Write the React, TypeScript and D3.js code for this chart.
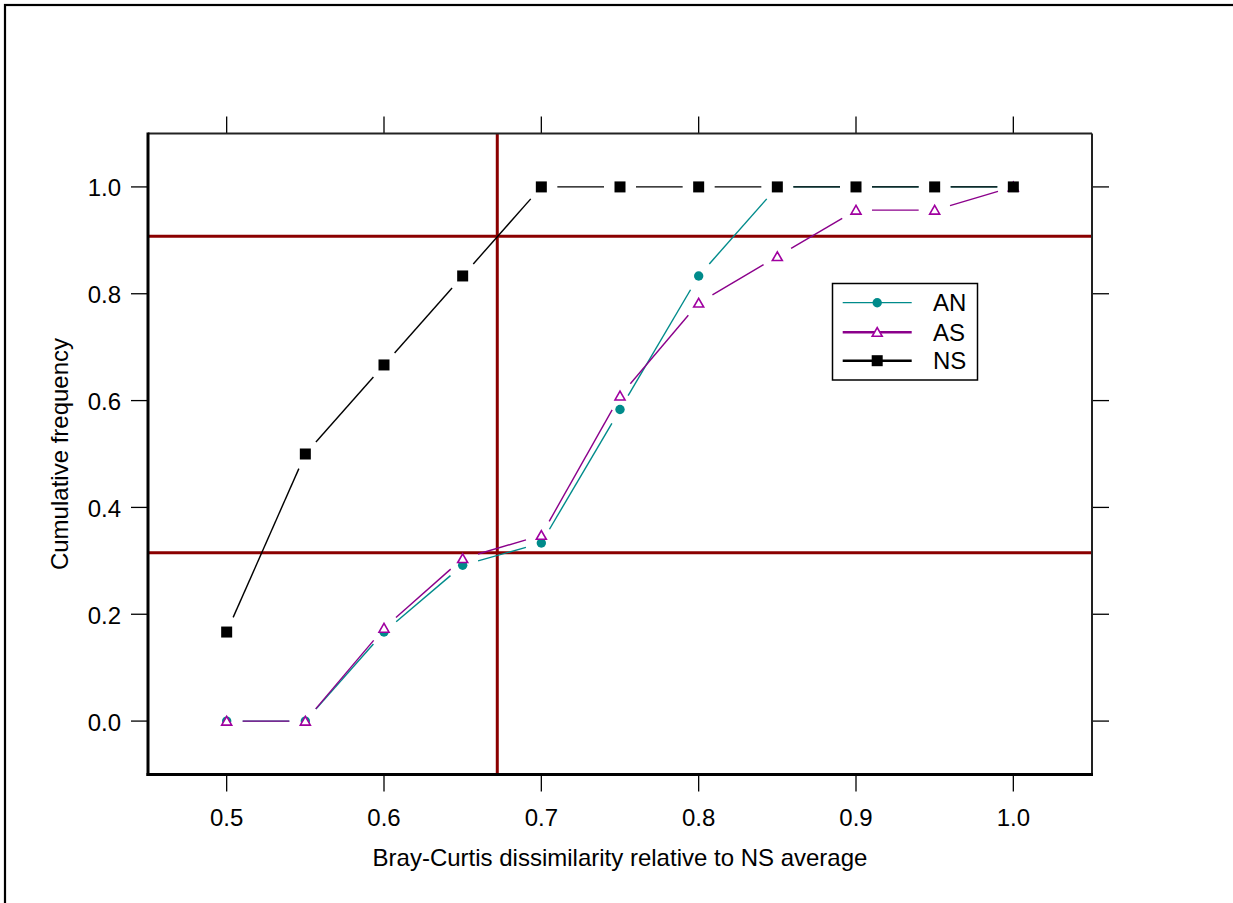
import React from "react";
import * as d3 from "d3";

const xValues = [0.5, 0.55, 0.6, 0.65, 0.7, 0.75, 0.8, 0.85, 0.9, 0.95, 1.0];
const anValues = [0, 0, 0.1667, 0.2917, 0.3333, 0.5833, 0.8333, 1.0, 1.0, 1.0, 1.0];
const asValues = [0, 0, 0.1739, 0.3043, 0.3478, 0.6087, 0.7826, 0.8696, 0.9565, 0.9565, 1.0];
const nsValues = [0.1667, 0.5, 0.6667, 0.8333, 1.0, 1.0, 1.0, 1.0, 1.0, 1.0, 1.0];
const xTicks = [0.5, 0.6, 0.7, 0.8, 0.9, 1.0];
const yTicks = [0.0, 0.2, 0.4, 0.6, 0.8, 1.0];
const hLines = [0.9076, 0.315];
const vLines = [0.672];
const seriesNames = ["AN", "AS", "NS"];

const W = 1233;
const H = 903;
const left = 148, right = 1092, top = 133.5, bottom = 774.5;
const FONT = "'Liberation Sans', Arial, Helvetica, sans-serif";
const FS = 24;

const colors: Record<string, string> = { AN: "#008B8B", AS: "#8B008B", NS: "#000000" };
const markerColors: Record<string, string> = { AN: "#008B8B", AS: "#A000A0", NS: "#000000" };

export default function App() {
  const x = d3.scaleLinear().domain([0.45, 1.05]).range([left, right]);
  const y = d3.scaleLinear().domain([-0.1, 1.1]).range([bottom, top]);

  const seriesData: Record<string, number[]> = { AN: anValues, AS: asValues, NS: nsValues };
  const gap = 16;

  const segs = (vals: number[]) => {
    const out: string[] = [];
    for (let i = 0; i < vals.length - 1; i++) {
      const x0 = x(xValues[i]), y0 = y(vals[i]);
      const x1 = x(xValues[i + 1]), y1 = y(vals[i + 1]);
      const dx = x1 - x0, dy = y1 - y0;
      const d = Math.hypot(dx, dy);
      if (d <= 2 * gap) continue;
      const ux = dx / d, uy = dy / d;
      const p = d3.path();
      p.moveTo(x0 + ux * gap, y0 + uy * gap);
      p.lineTo(x1 - ux * gap, y1 - uy * gap);
      out.push(p.toString());
    }
    return out;
  };

  const marker = (name: string, cx: number, cy: number, key: string) => {
    if (name === "AN") return <circle key={key} cx={cx} cy={cy} r={4.7} fill={markerColors.AN} />;
    if (name === "AS") {
      const s = 5;
      const pts = `${cx - s},${cy + s * 0.8} ${cx + s},${cy + s * 0.8} ${cx},${cy - s * 0.95}`;
      return <polygon key={key} points={pts} fill="white" stroke={markerColors.AS} strokeWidth={1.6} />;
    }
    return <rect key={key} x={cx - 5.5} y={cy - 5.5} width={11} height={11} fill="#000" />;
  };

  const legendRows = [302.7, 332.3, 360.7];
  const legendLW: Record<string, number> = { AN: 1.2, AS: 2.6, NS: 2.6 };

  return (
    <svg width={W} height={H} style={{ position: "absolute", left: 0, top: 0, background: "white" }} fontFamily={FONT}>
      <rect x={5} y={5} width={W + 20} height={H + 20} fill="none" stroke="#000" strokeWidth={2.2} />
      <defs>
        <clipPath id="plotclip">
          <rect x={left} y={top} width={right - left} height={bottom - top} />
        </clipPath>
      </defs>

      {xTicks.map((t) => (
        <g key={"xt" + t}>
          <line x1={x(t)} x2={x(t)} y1={bottom} y2={bottom + 17} stroke="#000" strokeWidth={1.3} />
          <line x1={x(t)} x2={x(t)} y1={top} y2={top - 17} stroke="#000" strokeWidth={1.3} />
          <text x={x(t)} y={826} textAnchor="middle" fontSize={FS} fill="#000">{t.toFixed(1)}</text>
        </g>
      ))}
      {yTicks.map((t) => (
        <g key={"yt" + t}>
          <line x1={left} x2={left - 17} y1={y(t)} y2={y(t)} stroke="#000" strokeWidth={1.3} />
          <line x1={right} x2={right + 17} y1={y(t)} y2={y(t)} stroke="#000" strokeWidth={1.3} />
          <text x={121} y={y(t) + 9.5} textAnchor="end" fontSize={FS} fill="#000">{t.toFixed(1)}</text>
        </g>
      ))}

      <g clipPath="url(#plotclip)">
        {hLines.map((v) => (
          <line key={"h" + v} x1={left} x2={right} y1={y(v)} y2={y(v)} stroke="#8B0000" strokeWidth={3} />
        ))}
        {vLines.map((v) => (
          <line key={"v" + v} x1={x(v)} x2={x(v)} y1={top} y2={bottom} stroke="#8B0000" strokeWidth={3} />
        ))}
        {seriesNames.map((name) => (
          <g key={name}>
            {segs(seriesData[name]).map((d, i) => (
              <path key={i} d={d} stroke={colors[name]} strokeWidth={1.4} fill="none" />
            ))}
            {seriesData[name].map((v, i) => marker(name, x(xValues[i]), y(v), name + i))}
          </g>
        ))}
      </g>

      <line x1={left} x2={right} y1={top} y2={top} stroke="#222" strokeWidth={2} />
      <line x1={right} x2={right} y1={top} y2={bottom} stroke="#222" strokeWidth={2} />
      <line x1={left} x2={left} y1={top - 1} y2={bottom + 1.5} stroke="#000" strokeWidth={3} />
      <line x1={left - 1.5} x2={right + 1} y1={bottom} y2={bottom} stroke="#000" strokeWidth={3} />

      <rect x={832.5} y={283.5} width={145} height={96.5} fill="white" stroke="#000" strokeWidth={1.5} />
      {seriesNames.map((name, i) => (
        <g key={"lg" + name}>
          <line x1={842.7} x2={911.7} y1={legendRows[i]} y2={legendRows[i]} stroke={colors[name]} strokeWidth={legendLW[name]} />
          {marker(name, 877.2, legendRows[i], "lm" + name)}
          <text x={933} y={legendRows[i] + 8.5} fontSize={FS} fill="#000">{name}</text>
        </g>
      ))}

      <text x={(left + right) / 2} y={866} textAnchor="middle" fontSize={FS} fill="#000">
        Bray-Curtis dissimilarity relative to NS average
      </text>
      <text transform={`translate(68, ${(top + bottom) / 2}) rotate(-90)`} textAnchor="middle" fontSize={FS} fill="#000">
        Cumulative frequency
      </text>
    </svg>
  );
}
